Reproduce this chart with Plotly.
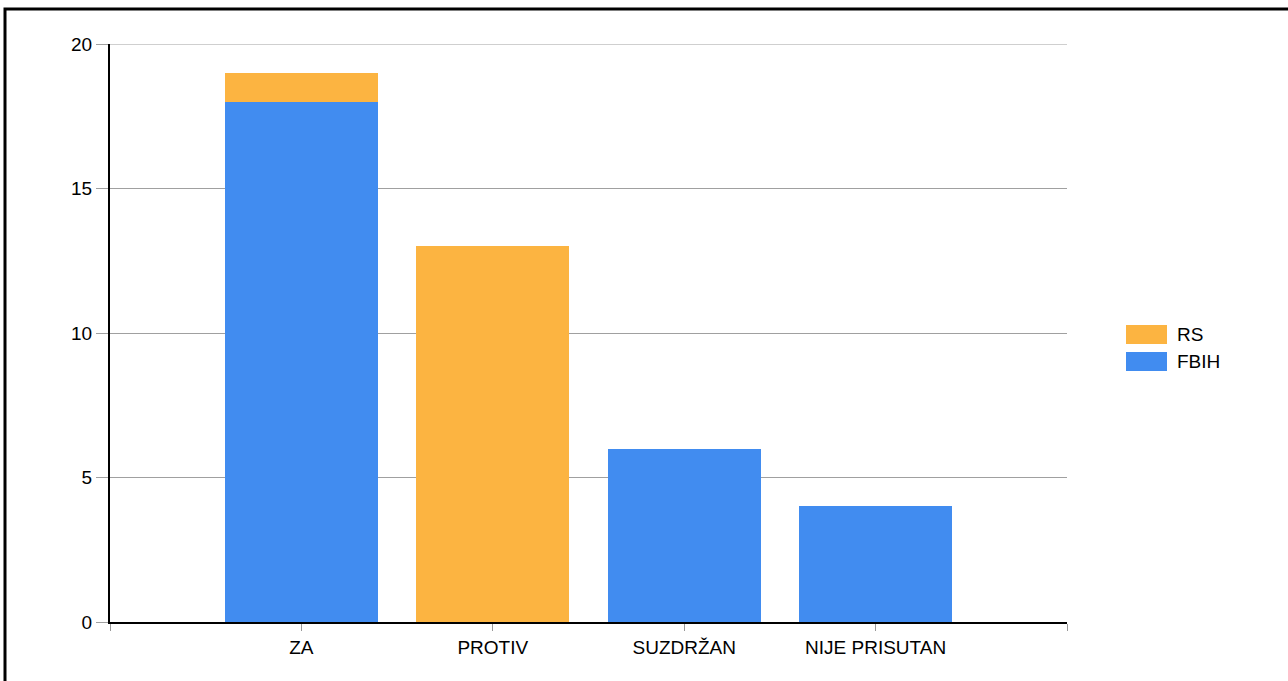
import plotly.graph_objects as go

categories = ["ZA", "PROTIV", "SUZDRŽAN", "NIJE PRISUTAN"]
fbih = [18, 0, 6, 4]
rs = [1, 13, 0, 0]
series_names = ["RS", "FBIH"]
yticks = [0, 5, 10, 15, 20]

BLUE = "#418CF0"
ORANGE = "#FCB441"
GRID = "#a0a0a0"
FONT = "Liberation Sans, Arial, sans-serif"
FS = 19

W, H = 1288, 681
ML, MR, MT, MB = 110, 221, 44, 59
PW, PH = W - ML - MR, H - MT - MB

def px(x):
    return (x - ML) / PW

def py(y):
    return (H - MB - y) / PH

xpos = list(range(len(categories)))

fig = go.Figure()
fig.add_trace(go.Bar(x=xpos, y=fbih, name=series_names[1], marker=dict(color=BLUE, line=dict(width=0)), width=0.8))
fig.add_trace(go.Bar(x=xpos, y=rs, name=series_names[0], marker=dict(color=ORANGE, line=dict(width=0)), width=0.8))

fig.update_layout(
    width=W, height=H,
    margin=dict(l=ML, r=MR, t=MT, b=MB),
    barmode="stack",
    showlegend=False,
    plot_bgcolor="white",
    paper_bgcolor="white",
    font=dict(family=FONT, size=FS, color="black"),
    xaxis=dict(
        range=[-1, len(categories)],
        tickvals=[-1] + xpos + [len(categories)],
        ticktext=[""] + categories + [""],
        showgrid=False, zeroline=False,
        showline=True, linecolor="black", linewidth=2,
        ticks="outside", ticklen=7, tickcolor="#999999", tickwidth=1,
        tickfont=dict(size=FS),
    ),
    yaxis=dict(
        range=[0, max(yticks)],
        tickvals=yticks,
        showgrid=True, gridcolor=GRID, gridwidth=1,
        zeroline=False,
        showline=True, linecolor="black", linewidth=2,
        ticks="outside", ticklen=12, tickcolor=GRID, tickwidth=1,
        tickfont=dict(size=FS),
    ),
)

shapes = []
# top gridline (plotly omits the one on the plot edge)
shapes.append(dict(type="line", xref="paper", yref="y", x0=0, x1=1, y0=max(yticks), y1=max(yticks),
                   line=dict(color=GRID, width=1), layer="below"))
# outer frame
shapes.append(dict(type="rect", xref="paper", yref="paper",
                   x0=px(5), x1=px(W + 10), y0=py(H + 10), y1=py(9),
                   line=dict(color="black", width=3), fillcolor="rgba(0,0,0,0)", layer="above"))
# custom legend
legend_items = [(series_names[0], ORANGE, 325), (series_names[1], BLUE, 352)]
annotations = []
for name, color, top in legend_items:
    shapes.append(dict(type="rect", xref="paper", yref="paper",
                       x0=px(1126), x1=px(1167), y0=py(top + 19), y1=py(top),
                       line=dict(width=0), fillcolor=color))
    annotations.append(dict(xref="paper", yref="paper", x=px(1175), y=py(top + 9.5),
                            text=name, showarrow=False, xanchor="left", yanchor="middle",
                            font=dict(family=FONT, size=FS, color="black")))
fig.update_layout(shapes=shapes, annotations=annotations)

fig.write_html("out.html", config={"displayModeBar": False},
               post_script="document.body.style.margin='0px';")
